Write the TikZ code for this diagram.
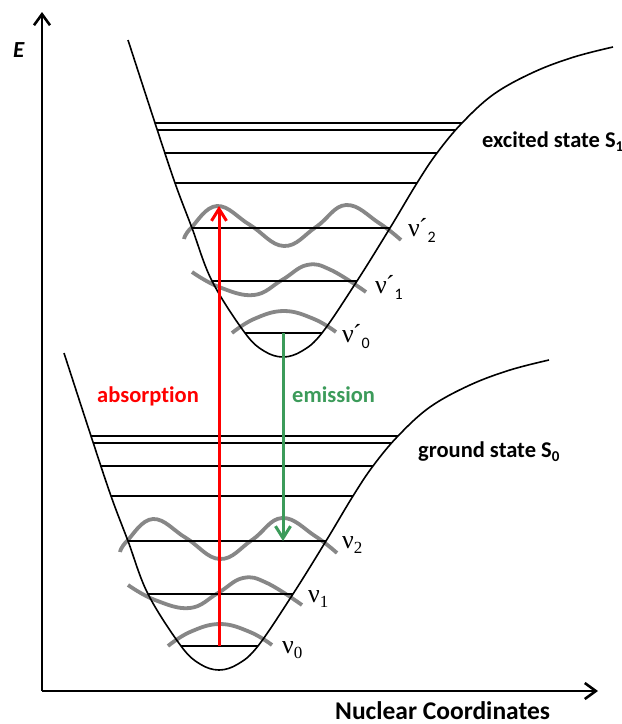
\documentclass[tikz,border=0pt]{standalone}
\usepackage{fontspec}
\setmainfont{Carlito}[Ligatures=NoCommon]
\newfontfamily\nufont{Liberation Serif}
\usetikzlibrary{arrows.meta}
\definecolor{wavegray}{RGB}{135,135,135}
\definecolor{emgreen}{RGB}{60,155,90}
\definecolor{absred}{RGB}{255,0,0}
\tikzset{
  wellcurve/.style={line width=1.6pt, black},
  levelline/.style={line width=1.6pt, black},
  wavecurve/.style={line width=3.8pt, wavegray},
  axisline/.style={line width=2.6pt, -{Straight Barb[length=11pt,width=16pt,line width=2.6pt]}},
  transarrow/.style={line width=3pt, -{Straight Barb[length=12pt,width=15pt,line width=3pt]}},
  lbl/.style={font=\fontsize{22.5}{26}\selectfont\bfseries, inner sep=0pt, anchor=base west},
  nulbl/.style={font=\fontsize{26}{28}\selectfont\nufont, inner sep=0pt, anchor=base west},
}
\newcommand\welldraw{%
  \draw[wavecurve] plot[smooth,tension=0.7] coordinates {(120,552) (127,541) (153,519) (186,538) (220,559) (252,540) (282,518) (315,536) (337,553)};
  \draw[wavecurve] plot[smooth,tension=0.7] coordinates {(128,585) (155,600) (190,608) (218,593) (243,578) (267,583) (302,605)};
  \draw[wavecurve] plot[smooth,tension=0.7] coordinates {(168,646) (190,632) (220,624) (250,632) (272,645)};
  \foreach \yy/\xa/\xb in {436/91/398, 443/93/392, 466/101/373, 496/111/353, 541/128/326, 594/148/293, 646/181/258}
    \draw[levelline] (\xa,\yy) -- (\xb,\yy);
  \draw[wellcurve] plot[smooth,tension=0.6] coordinates {(64,353) (91,436) (111,496) (128,541) (148,594) (181,646) (200,664) (219,670) (238,664) (258,646) (293,594) (326,541) (353,496) (373,466) (398,436) (430,407) (470,385) (510,370) (549,360)};
}
\begin{document}
\begin{tikzpicture}[x=1pt,y=-1pt]
  \useasboundingbox (0,0) rectangle (622,724);
  % axes
  \coordinate (O) at (42,691);
  \coordinate (Ytop) at (42,12);
  \coordinate (Xend) at (598,691);
  \draw[axisline] (O) -- (Ytop);
  \draw[axisline] (O) -- (Xend);
  % wells
  \welldraw
  \begin{scope}[shift={(64,-313)}]
    \welldraw
  \end{scope}
  % transitions
  \coordinate (absStart) at (219,646);
  \coordinate (absEnd) at (219,206);
  \coordinate (emStart) at (283,333);
  \coordinate (emEnd) at (283,541);
  \draw[transarrow, absred] (absStart) -- (absEnd);
  \draw[transarrow, emgreen] (emStart) -- (emEnd);
  % labels
  \node[lbl, font=\fontsize{23}{25}\selectfont\bfseries\itshape] (lE) at (13,57) {E};
  \node[lbl, font=\fontsize{25.5}{27}\selectfont\bfseries] (lNC) at (335,719) {Nuclear Coordinates};
  \node[lbl, absred] (lAbs) at (97,402) {absorption};
  \node[lbl, emgreen] (lEm) at (292,402) {emission};
  \node[lbl] (lS1) at (482,147) {excited state S\raisebox{-4pt}{\fontsize{15}{15}\selectfont 1}};
  \node[lbl] (lS0) at (418,457) {ground state S\raisebox{-4pt}{\fontsize{15}{15}\selectfont 0}};
  \node[nulbl] (n2p) at (408,236) {ν\kern-1pt´\raisebox{-6pt}{\fontsize{16}{16}\selectfont\rmfamily 2}};
  \node[nulbl] (n1p) at (375,293) {ν\kern-1pt´\raisebox{-6pt}{\fontsize{16}{16}\selectfont\rmfamily 1}};
  \node[nulbl] (n0p) at (342,342) {ν\kern-1pt´\raisebox{-6pt}{\fontsize{16}{16}\selectfont\rmfamily 0}};
  \node[nulbl] (n2) at (342,548) {ν\raisebox{-5pt}{\fontsize{17}{17}\selectfont 2}};
  \node[nulbl] (n1) at (308,602) {ν\raisebox{-5pt}{\fontsize{17}{17}\selectfont 1}};
  \node[nulbl] (n0) at (282,653) {ν\raisebox{-5pt}{\fontsize{17}{17}\selectfont 0}};
\end{tikzpicture}
\end{document}
